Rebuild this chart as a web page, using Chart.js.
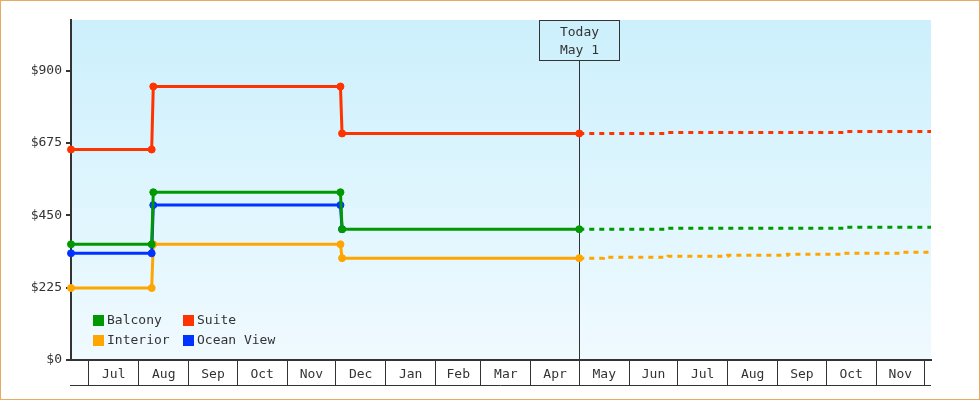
<!DOCTYPE html>
<html>
<head>
<meta charset="utf-8">
<title>Cabin prices</title>
<script src="https://cdn.jsdelivr.net/npm/chart.js@4.4.1/dist/chart.umd.min.js"></script>
<style>
  body { margin: 0; background: #fff; }
  #wrap { width: 980px; height: 400px; box-sizing: border-box; border: 1px solid #e8a964; background: #fff; }
  canvas { display: block; }
</style>
</head>
<body>
<div id="wrap"><canvas id="priceChart" width="978" height="398"></canvas></div>
<script>
// Price history (solid) and forecast (dotted), [date, price]
var balconyHistory = [["2022-06-20", 360], ["2022-08-09", 360], ["2022-08-10", 522], ["2022-12-04", 522], ["2022-12-05", 407], ["2023-05-01", 407]];
var suiteHistory = [["2022-06-20", 655], ["2022-08-09", 655], ["2022-08-10", 851], ["2022-12-04", 851], ["2022-12-05", 705], ["2023-05-01", 705]];
var oceanViewHistory = [["2022-06-20", 332], ["2022-08-09", 332], ["2022-08-10", 482], ["2022-12-04", 482], ["2022-12-05", 407]];
var interiorHistory = [["2022-06-20", 224], ["2022-08-09", 224], ["2022-08-10", 360], ["2022-12-04", 360], ["2022-12-05", 317], ["2023-05-01", 317]];

var balconyForecast = [["2023-05-01", 407], ["2023-06-25", 410], ["2023-10-12", 413], ["2023-12-05", 413]];
var suiteForecast = [["2023-05-01", 705], ["2023-06-25", 708], ["2023-10-12", 711], ["2023-12-05", 711]];
var interiorForecast = [["2023-05-01", 317], ["2023-05-16", 320], ["2023-06-25", 323], ["2023-08-01", 326], ["2023-09-07", 329], ["2023-10-12", 332], ["2023-11-16", 335], ["2023-12-05", 335]];

var seriesNames = ["Balcony", "Suite", "Interior", "Ocean View"];
var seriesColors = ["#009900", "#ff3300", "#ffa500", "#0033ff"];

var monthStarts = ["2022-07-01", "2022-08-01", "2022-09-01", "2022-10-01", "2022-11-01", "2022-12-01",
  "2023-01-01", "2023-02-01", "2023-03-01", "2023-04-01", "2023-05-01", "2023-06-01",
  "2023-07-01", "2023-08-01", "2023-09-01", "2023-10-01", "2023-11-01", "2023-12-01"];
var monthLabels = ["Jul", "Aug", "Sep", "Oct", "Nov", "Dec", "Jan", "Feb", "Mar", "Apr", "May", "Jun",
  "Jul", "Aug", "Sep", "Oct", "Nov"];
var priceTicks = [0, 225, 450, 675, 900];
var priceMax = 1058;
var dateMin = "2022-06-20";
var dateMax = "2023-12-05";
var today = "2023-05-01";
var todayLabel = ["Today", "May 1"];

var FONT = "DejaVu Sans Mono";
var INK = "#333333";

function toDay(s) {
  return Date.parse(s) / 86400000;
}

function toPoints(rows) {
  return rows.map(function (r) {
    return { x: toDay(r[0]), y: r[1] };
  });
}

// month boundaries get a tick line, month middles get the label
var boundaryDays = monthStarts.map(toDay);
var labelAt = {};
var xTicks = boundaryDays.slice();
for (var i = 0; i < monthLabels.length; i++) {
  var mid = (boundaryDays[i] + boundaryDays[i + 1]) / 2;
  labelAt[mid] = monthLabels[i];
  xTicks.push(mid);
}
xTicks.sort(function (a, b) { return a - b; });

function solid(name, rows) {
  var c = seriesColors[seriesNames.indexOf(name)];
  return {
    label: name,
    data: toPoints(rows),
    borderColor: c,
    backgroundColor: c,
    borderWidth: 3,
    pointRadius: 3.5,
    pointBorderWidth: 1,
    pointBackgroundColor: c,
    pointBorderColor: c,
    tension: 0,
    clip: false
  };
}

function dotted(name, rows) {
  var c = seriesColors[seriesNames.indexOf(name)];
  return {
    label: name + " forecast",
    data: toPoints(rows),
    borderColor: c,
    borderWidth: 3,
    borderDash: [5, 5],
    borderCapStyle: "butt",
    pointRadius: 0,
    stepped: true,
    clip: false
  };
}

var chartDecor = {
  id: "chartDecor",
  beforeDraw: function (chart) {
    var ctx = chart.ctx, a = chart.chartArea;
    ctx.save();
    ctx.fillStyle = "#ffffff";
    ctx.fillRect(0, 0, chart.width, chart.height);
    var g = ctx.createLinearGradient(0, a.top, 0, a.bottom);
    g.addColorStop(0, "#ccf0fc");
    g.addColorStop(1, "#f0faff");
    ctx.fillStyle = g;
    ctx.fillRect(a.left, a.top, a.right - a.left, a.bottom - a.top);
    ctx.restore();
  },
  beforeDatasetsDraw: function (chart) {
    var ctx = chart.ctx, a = chart.chartArea;
    var x = Math.round(chart.scales.x.getPixelForValue(toDay(today))) + 0.5;
    var boxW = 80, boxH = 40;
    ctx.save();
    ctx.strokeStyle = INK;
    ctx.lineWidth = 1;
    ctx.beginPath();
    ctx.moveTo(x, a.top + boxH);
    ctx.lineTo(x, a.bottom);
    ctx.stroke();
    ctx.strokeRect(x - boxW / 2, a.top + 0.5, boxW, boxH);
    ctx.fillStyle = INK;
    ctx.font = "13px '" + FONT + "'";
    ctx.textAlign = "center";
    ctx.textBaseline = "middle";
    ctx.fillText(todayLabel[0], x, a.top + 13);
    ctx.fillText(todayLabel[1], x, a.top + 31);
    ctx.restore();
  },
  afterDatasetsDraw: function (chart) {
    var ctx = chart.ctx, a = chart.chartArea;
    ctx.save();
    ctx.font = "13px '" + FONT + "'";
    ctx.textAlign = "left";
    ctx.textBaseline = "middle";
    for (var i = 0; i < seriesNames.length; i++) {
      var col = i % 2, row = Math.floor(i / 2);
      var sx = a.left + 22 + col * 90;
      var sy = a.bottom - 45 + row * 20;
      ctx.fillStyle = seriesColors[i];
      ctx.fillRect(sx, sy, 11, 11);
      ctx.fillStyle = INK;
      ctx.fillText(seriesNames[i], sx + 14, sy + 6);
    }
    ctx.restore();
  },
  afterDraw: function (chart) {
    var ctx = chart.ctx, a = chart.chartArea;
    ctx.save();
    ctx.strokeStyle = INK;
    ctx.lineWidth = 1;
    ctx.beginPath();
    ctx.moveTo(a.left - 1, a.bottom + 25.5);
    ctx.lineTo(a.right, a.bottom + 25.5);
    ctx.stroke();
    ctx.restore();
  }
};

var ctxPrice = document.getElementById("priceChart").getContext("2d");

new Chart(ctxPrice, {
  type: "line",
  data: {
    datasets: [
      solid("Balcony", balconyHistory),
      solid("Ocean View", oceanViewHistory),
      solid("Interior", interiorHistory),
      solid("Suite", suiteHistory),
      dotted("Balcony", balconyForecast),
      dotted("Interior", interiorForecast),
      dotted("Suite", suiteForecast)
    ]
  },
  options: {
    responsive: false,
    animation: false,
    devicePixelRatio: 1,
    layout: { padding: { left: 0, right: 48, top: 19, bottom: 13 } },
    plugins: {
      legend: { display: false },
      tooltip: { enabled: false }
    },
    scales: {
      x: {
        type: "linear",
        min: toDay(dateMin),
        max: toDay(dateMax),
        afterBuildTicks: function (scale) {
          scale.ticks = xTicks.map(function (v) { return { value: v }; });
        },
        afterFit: function (scale) { scale.height = 26; },
        grid: {
          drawOnChartArea: false,
          drawTicks: true,
          tickLength: 25,
          lineWidth: 1,
          color: function (c) {
            return c.tick && boundaryDays.indexOf(c.tick.value) >= 0 ? INK : "rgba(0,0,0,0)";
          }
        },
        border: { display: true, color: INK, width: 2 },
        ticks: {
          autoSkip: false,
          maxRotation: 0,
          padding: -18,
          color: INK,
          font: { family: FONT, size: 13 },
          callback: function (v) { return labelAt[v] || ""; }
        }
      },
      y: {
        min: 0,
        max: priceMax,
        afterBuildTicks: function (scale) {
          scale.ticks = priceTicks.map(function (v) { return { value: v }; });
        },
        afterFit: function (scale) { scale.width = 70; },
        grid: { drawOnChartArea: false, drawTicks: true, tickLength: 5, lineWidth: 2, color: INK },
        border: { display: true, color: INK, width: 2 },
        ticks: {
          padding: 4,
          color: INK,
          font: { family: FONT, size: 13 },
          callback: function (v) { return "$" + v; }
        }
      }
    }
  },
  plugins: [chartDecor]
});
</script>
</body>
</html>
